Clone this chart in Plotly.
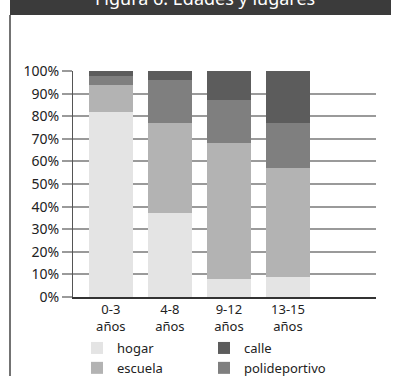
import plotly.graph_objects as go

categories = ["0-3<br>años", "4-8<br>años", "9-12<br>años", "13-15<br>años"]
hogar = [82, 37, 8, 9]
escuela = [12, 40, 60, 48]
polideportivo = [4, 19, 19, 20]
calle = [2, 4, 13, 23]
y_ticks = [0, 10, 20, 30, 40, 50, 60, 70, 80, 90, 100]
y_labels = [f"{v}%" for v in y_ticks]
title_text = "Figura 6. Edades y lugares"

x = list(range(len(categories)))
FONT = "Noto Sans"

fig = go.Figure()
series = [
    ("hogar", hogar, "#e4e4e4", "legend", 1),
    ("escuela", escuela, "#b3b3b3", "legend", 2),
    ("polideportivo", polideportivo, "#7f7f7f", "legend2", 2),
    ("calle", calle, "#5c5c5c", "legend2", 1),
]
for name, vals, col, leg, rank in series:
    fig.add_trace(go.Bar(
        x=x, y=vals, name=name, marker=dict(color=col, line=dict(width=0)),
        width=0.745, legend=leg, legendrank=rank,
    ))

L, R, T, B = 73, 19, 71, 79
W, H = 395, 376
pw, ph = W - L - R, H - T - B

def px_x(p):
    return (p - L) / pw

def px_y(p):
    return (H - B - p) / ph

def cy(p):
    return (H - p) / H

leg_common = dict(
    yref="container", xanchor="left", yanchor="top",
    font=dict(size=13, color="#222"), bgcolor="rgba(0,0,0,0)",
    tracegroupgap=0, traceorder="normal", itemsizing="constant",
)

fig.update_layout(
    width=W, height=H,
    margin=dict(l=L, r=R, t=T, b=B, autoexpand=False),
    barmode="stack",
    paper_bgcolor="white", plot_bgcolor="white",
    font=dict(family=FONT, size=13, color="#222"),
    showlegend=True,
    xaxis=dict(
        range=[-0.64, 4.49], tickvals=x, ticktext=categories,
        showline=True, linecolor="#333", linewidth=1.5,
        showgrid=False, ticks="", zeroline=False,
        tickfont=dict(size=13, color="#222"),
    ),
    yaxis=dict(
        range=[0, 100], tickvals=y_ticks, ticktext=y_labels,
        showline=True, linecolor="#555", linewidth=1.2,
        showgrid=True, gridcolor="#9a9a9a", gridwidth=1.5,
        ticks="outside", ticklen=10, tickcolor="#9a9a9a", tickwidth=1.5,
        zeroline=False, tickfont=dict(size=14, color="#222"),
    ),
    legend=dict(x=px_x(77), y=cy(333), **leg_common),
    legend2=dict(x=px_x(204), y=cy(333), **leg_common),
    shapes=[
        dict(type="rect", xref="paper", yref="paper",
             x0=px_x(10), x1=px_x(391), y0=px_y(15), y1=px_y(-5),
             fillcolor="#3b3b3b", line=dict(width=0), layer="above"),
        dict(type="line", xref="paper", yref="paper",
             x0=px_x(10), x1=px_x(10), y0=px_y(15), y1=px_y(380),
             line=dict(color="#444", width=1.5)),
    ],
    annotations=[
        dict(text=title_text, xref="paper", yref="paper",
             x=px_x(205), y=px_y(-2), xanchor="center", yanchor="middle",
             showarrow=False, font=dict(size=18, color="white", family=FONT)),
    ],
)

fig.write_html("out.html")
